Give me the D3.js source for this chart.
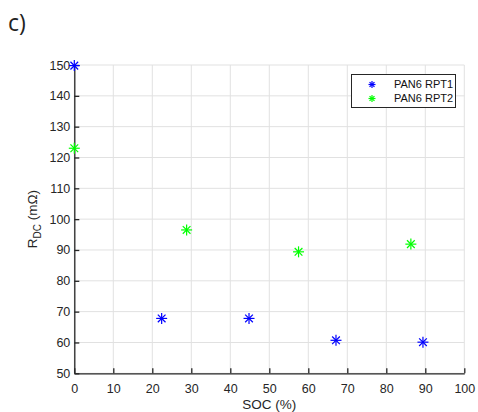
<!DOCTYPE html>
<html>
<head>
<meta charset="utf-8">
<script src="https://cdn.jsdelivr.net/npm/d3@7"></script>
<style>
  body { margin: 0; background: #fff; }
  text { font-family: "Liberation Sans", Arial, sans-serif; }
</style>
</head>
<body>
<div id="chart"></div>
<script>
const width = 478
const height = 412

// Data
const socRPT1 = [0, 22.4, 44.8, 67.1, 89.4]
const rdcRPT1 = [149.8, 67.8, 67.8, 60.7, 60.1]
const socRPT2 = [0, 28.8, 57.5, 86.3]
const rdcRPT2 = [123.0, 96.5, 89.4, 91.9]
const seriesNames = ["PAN6 RPT1", "PAN6 RPT2"]
const seriesColors = ["#0000ff", "#00ff00"]
const xTicks = d3.range(0, 101, 10)
const yTicks = d3.range(50, 151, 10)

const margin = {left: 74.3, right: 478 - 464.3, top: 65, bottom: 412 - 373.3}

const x = d3.scaleLinear().domain([0, 100]).range([margin.left, width - margin.right])
const y = d3.scaleLinear().domain([50, 150]).range([height - margin.bottom, margin.top])

const svg = d3.select("#chart").append("svg")
  .attr("width", width)
  .attr("height", height)

// grid
svg.append("g")
  .selectAll("line.gx")
  .data(xTicks)
  .enter().append("line")
  .attr("x1", d => x(d)).attr("x2", d => x(d))
  .attr("y1", y(50)).attr("y2", y(150))
  .attr("stroke", "#e1e1e1").attr("stroke-width", 1)

svg.append("g")
  .selectAll("line.gy")
  .data(yTicks)
  .enter().append("line")
  .attr("x1", x(0)).attr("x2", x(100))
  .attr("y1", d => y(d)).attr("y2", d => y(d))
  .attr("stroke", "#e1e1e1").attr("stroke-width", 1)

// axes
const xAxis = svg.append("g")
  .attr("transform", "translate(0," + y(50) + ")")
  .call(d3.axisBottom(x).tickValues(xTicks).tickSize(-5).tickPadding(8).tickSizeOuter(0))
const yAxis = svg.append("g")
  .attr("transform", "translate(" + x(0) + ",0)")
  .call(d3.axisLeft(y).tickValues(yTicks).tickSize(-5).tickPadding(4).tickSizeOuter(0))

;[xAxis, yAxis].forEach(function(a) {
  a.select(".domain").attr("stroke", "#262626").attr("stroke-width", 1.3)
  a.selectAll(".tick line").attr("stroke", "#262626").attr("stroke-width", 1.3)
  a.selectAll(".tick text").attr("fill", "#262626").style("font-size", "12.5px")
})
xAxis.selectAll(".tick text").attr("dy", "0.9em")

// labels
svg.append("text")
  .attr("x", x(50)).attr("y", 409)
  .attr("text-anchor", "middle")
  .attr("fill", "#262626")
  .style("font-size", "13.5px")
  .text("SOC (%)")

const ylab = svg.append("text")
  .attr("transform", "translate(37," + y(100) + ") rotate(-90)")
  .attr("text-anchor", "middle")
  .attr("fill", "#262626")
  .style("font-size", "13.5px")
ylab.append("tspan").text("R")
ylab.append("tspan").attr("dy", 4).style("font-size", "10px").text("DC")
ylab.append("tspan").attr("dy", -4).text(" (mΩ)")

svg.append("text")
  .attr("x", 8).attr("y", 31)
  .attr("fill", "#222")
  .style("font-family", "'Open Sans', sans-serif")
  .style("font-size", "23px")
  .text("c)")

// asterisk marker like matlab '*'
function star(g, cx, cy, r, color) {
  const pts = [[0, -r, 0, r], [-r, 0, r, 0],
    [-r * 0.7, -r * 0.7, r * 0.7, r * 0.7], [-r * 0.7, r * 0.7, r * 0.7, -r * 0.7]]
  pts.forEach(function(p) {
    g.append("line")
      .attr("x1", cx + p[0]).attr("y1", cy + p[1])
      .attr("x2", cx + p[2]).attr("y2", cy + p[3])
      .attr("stroke", color).attr("stroke-width", 1.2)
  })
}

const marks = svg.append("g")
socRPT1.forEach(function(s, i) { star(marks, x(s), y(rdcRPT1[i]), 5.5, seriesColors[0]) })
socRPT2.forEach(function(s, i) { star(marks, x(s), y(rdcRPT2[i]), 5.5, seriesColors[1]) })

// legend
const legend = svg.append("g")
legend.append("rect")
  .attr("x", 351.5).attr("y", 74.5).attr("width", 104).attr("height", 33)
  .attr("fill", "#fff").attr("stroke", "#262626").attr("stroke-width", 1)
seriesNames.forEach(function(name, i) {
  star(legend, 372, 84.5 + i * 14, 3.5, seriesColors[i])
  legend.append("text")
    .attr("x", 394).attr("y", 84.5 + i * 14).attr("dy", "0.35em")
    .attr("fill", "#111")
    .style("font-size", "11px")
    .text(name)
})
</script>
</body>
</html>
